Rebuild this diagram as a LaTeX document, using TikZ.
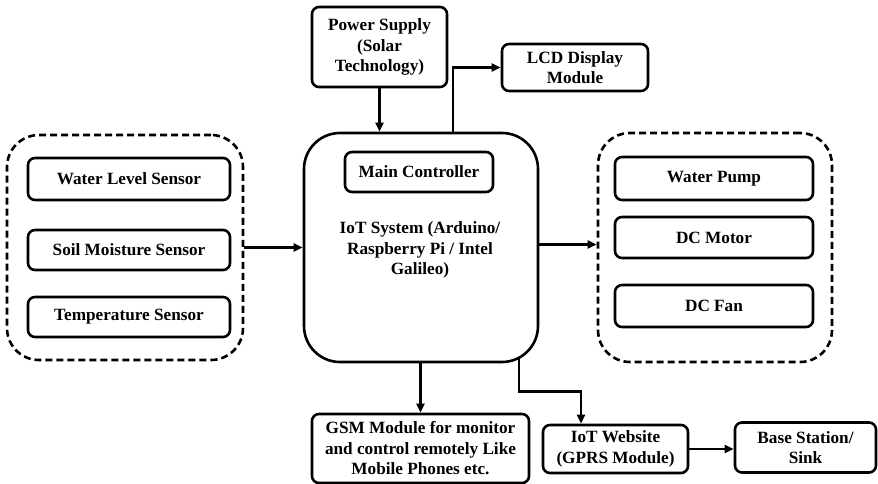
\documentclass[tikz,border=0pt]{standalone}
\usepackage{fontspec}
\setmainfont{Liberation Serif}
\usetikzlibrary{arrows.meta}
\pgfdeclarelayer{background}
\pgfsetlayers{background,main}
\begin{document}
\begin{tikzpicture}[x=1pt,y=-1pt,
  font=\fontsize{17.2}{20.5}\selectfont\bfseries,
  box/.style={draw,line width=2.6pt,rounded corners=7pt,align=center,inner sep=0pt,fill=white},
  group/.style={draw,line width=2.6pt,dash pattern=on 7pt off 4pt,rounded corners=32pt,inner sep=0pt},
  arr/.style={line width=2.4pt,-{Triangle[length=9pt,width=8pt]}}]
\useasboundingbox (0,0) rectangle (878,484);
% groups
\node[group,minimum width=236pt,minimum height=225pt] (lgroup) at (125,247.5) {};
\node[group,minimum width=234pt,minimum height=229pt] (rgroup) at (715,247.5) {};
% left sensors
\node[box,minimum width=202pt,minimum height=42pt] (wls) at (129,179) {Water Level Sensor};
\node[box,minimum width=202pt,minimum height=40pt] (sms) at (129,250) {Soil Moisture Sensor};
\node[box,minimum width=202pt,minimum height=40pt] (ts) at (129,317) {Temperature Sensor};
% right actuators
\node[box,minimum width=198pt,minimum height=43pt] (wp) at (714,178.5) {Water Pump};
\node[box,minimum width=198pt,minimum height=41pt] (dcm) at (714,237.5) {DC Motor};
\node[box,minimum width=198pt,minimum height=42pt] (dcf) at (714,306) {DC Fan};
% main
\node[box,rounded corners=36pt,minimum width=234pt,minimum height=229pt] (main) at (421,247.5) {};
\node[box,minimum width=148pt,minimum height=40pt] (mc) at (419,172) {Main Controller};
\node[align=center,inner sep=0pt] (iot) at (420,250) {IoT System (Arduino/\\Raspberry Pi / Intel\\Galileo)};
% top
\node[box,minimum width=135pt,minimum height=80pt] (power) at (379.5,47) {Power Supply\\(Solar\\Technology)};
\node[box,minimum width=146pt,minimum height=47pt] (lcd) at (575,67.5) {LCD Display\\Module};
% bottom
\node[box,minimum width=217pt,minimum height=69pt] (gsm) at (420.5,448.5) {GSM Module for monitor\\and control remotely Like\\Mobile Phones etc.};
\node[box,minimum width=145pt,minimum height=48pt] (iotw) at (615.5,449) {IoT Website\\(GPRS Module)};
\node[box,minimum width=141pt,minimum height=50pt] (base) at (805.5,447.5) {Base Station/\\Sink};
% connectors
\coordinate (iotin) at ([xshift=-34.5pt]iotw.north);
\begin{pgfonlayer}{background}
\draw[arr] (power.south) -- (power.south |- main.north);
\draw[arr] ([xshift=32pt]main.north) |- (lcd.west);
\draw[arr] (lgroup.east) -- (lgroup.east -| main.west);
\draw[arr] ([yshift=3pt]main.east) -- ([yshift=3pt]main.east -| rgroup.west);
\draw[arr] (main.south -| gsm.north) -- (gsm.north);
\draw[arr] ([xshift=98pt,yshift=20pt]main.south) -- ([xshift=98pt,yshift=-28pt]main.south) -| (iotin);
\draw[arr] (iotw.east) -- (iotw.east -| base.west);
\end{pgfonlayer}
\end{tikzpicture}
\end{document}
